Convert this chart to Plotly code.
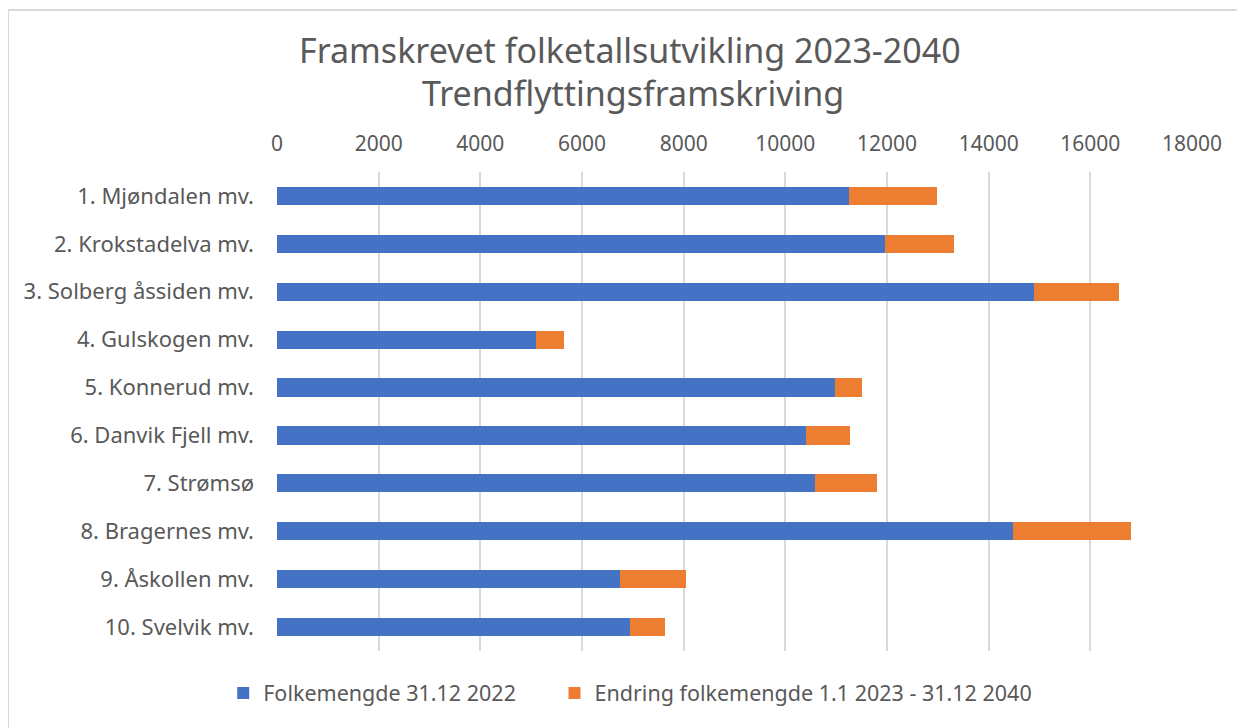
import plotly.graph_objects as go

omrader = [
    "1. Mjøndalen mv.",
    "2. Krokstadelva mv.",
    "3. Solberg åssiden mv.",
    "4. Gulskogen mv.",
    "5. Konnerud mv.",
    "6. Danvik Fjell mv.",
    "7. Strømsø",
    "8. Bragernes mv.",
    "9. Åskollen mv.",
    "10. Svelvik mv.",
]
folkemengde_2022 = [11250, 11965, 14890, 5090, 10970, 10415, 10590, 14485, 6745, 6950]
endring_2023_2040 = [1730, 1345, 1680, 550, 535, 865, 1220, 2315, 1295, 680]
x_ticks = list(range(0, 18001, 2000))
title_lines = ["Framskrevet folketallsutvikling 2023-2040", "Trendflyttingsframskriving"]

grey = "#595959"
font = "Noto Sans"

fig = go.Figure()
fig.add_trace(go.Bar(
    y=omrader, x=folkemengde_2022, orientation="h",
    name="Folkemengde 31.12 2022" + "\u00a0" * 6,
    marker=dict(color="#4472C4", line=dict(width=0)),
))
fig.add_trace(go.Bar(
    y=omrader, x=endring_2023_2040, orientation="h",
    name="Endring folkemengde 1.1 2023 - 31.12 2040",
    marker=dict(color="#ED7D31", line=dict(width=0)),
))

# the page body has an 8px margin, so the figure is 8px smaller and shifted
fig.update_layout(
    width=1237, height=720,
    barmode="stack", bargap=0.62,
    paper_bgcolor="white", plot_bgcolor="white",
    margin=dict(l=269, r=53, t=164, b=77, autoexpand=False),
    font=dict(family=font, color=grey, size=18),
    xaxis=dict(
        side="top", range=[0, 18000], tickvals=x_ticks, tickformat="d",
        showgrid=True, gridcolor="#d9d9d9", gridwidth=1.5,
        zeroline=False, showline=False, ticks="", automargin=False,
        ticklabelstandoff=16,
        tickfont=dict(size=21, color=grey),
    ),
    yaxis=dict(
        autorange="reversed", showgrid=False, ticks="", automargin=False,
        showline=False, ticklabelstandoff=22,
        tickfont=dict(size=22, color=grey),
    ),
    legend=dict(
        orientation="h", xref="container", yref="container",
        x=0.503, xanchor="center", y=0.0486, yanchor="middle",
        font=dict(size=21.5, color=grey), traceorder="normal",
        itemwidth=30,
    ),
    annotations=[
        dict(text=title_lines[0], xref="paper", yref="paper", x=0.386, y=1.2547,
             xanchor="center", yanchor="middle", showarrow=False,
             font=dict(size=34, color=grey, family=font)),
        dict(text=title_lines[1], xref="paper", yref="paper", x=0.389, y=1.1649,
             xanchor="center", yanchor="middle", showarrow=False,
             font=dict(size=34, color=grey, family=font)),
    ],
    shapes=[dict(
        type="rect", xref="paper", yref="paper",
        x0=-0.294, x1=1.2, y0=-0.3, y1=1.338,
        line=dict(color="#d9d9d9", width=2), fillcolor="rgba(0,0,0,0)",
        layer="below",
    )],
)

fig.write_html("out.html")
